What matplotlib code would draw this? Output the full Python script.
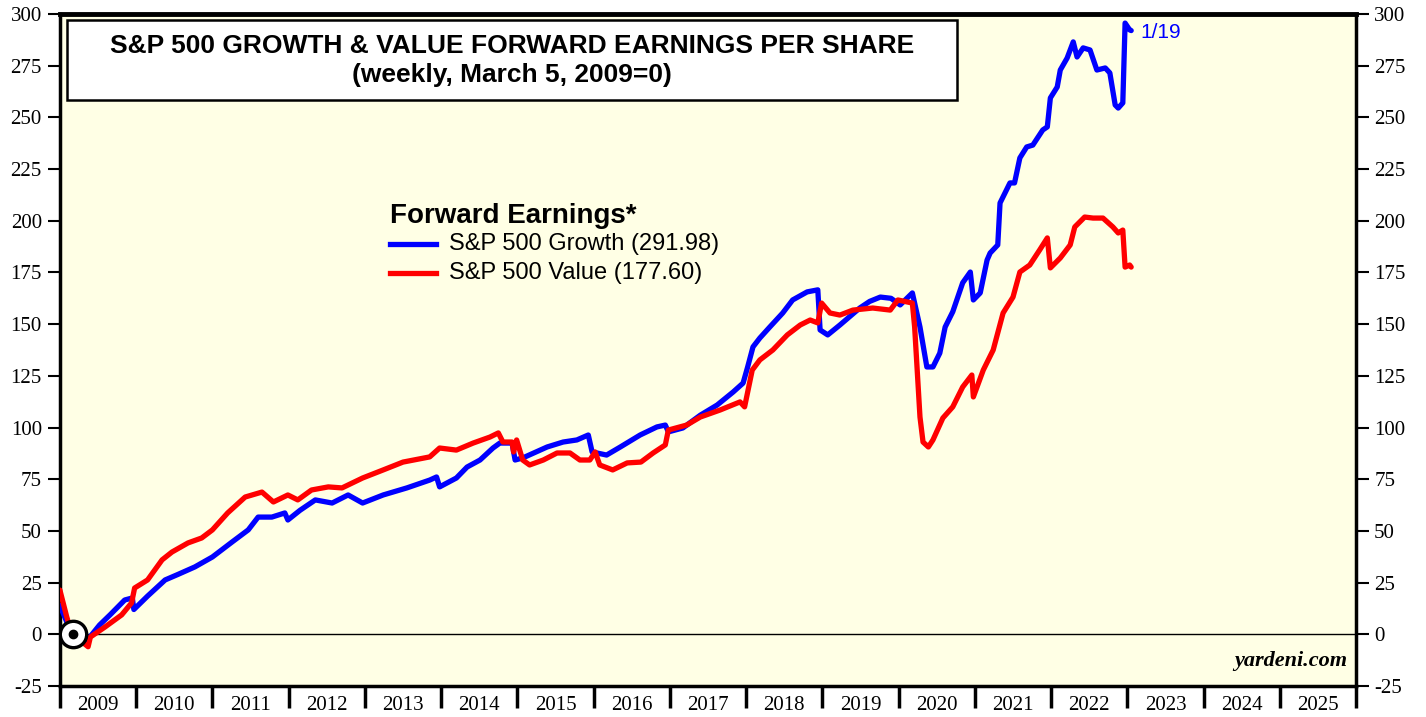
import matplotlib
matplotlib.use("Agg")
import numpy as np
import matplotlib.pyplot as plt
from matplotlib.patches import Rectangle
from matplotlib.ticker import MultipleLocator, FixedLocator, NullFormatter

plt.rcParams["axes.unicode_minus"] = False

# forward EPS index, March 5 2009 = 0
growth_x = [2009.0, 2009.09, 2009.17, 2009.33, 2009.4, 2009.52, 2009.66, 2009.85, 2009.95, 2009.97,
            2010.15, 2010.38, 2010.55, 2010.77, 2011.0, 2011.26, 2011.47, 2011.6, 2011.78, 2011.95,
            2011.99, 2012.15, 2012.35, 2012.57, 2012.78, 2012.97, 2013.24, 2013.55, 2013.85, 2013.94,
            2013.98, 2014.2, 2014.34, 2014.51, 2014.68, 2014.77, 2014.93, 2014.97, 2015.07, 2015.39,
            2015.6, 2015.78, 2015.93, 2015.98, 2016.17, 2016.35, 2016.61, 2016.83, 2016.94, 2016.98,
            2017.17, 2017.4, 2017.62, 2017.83, 2017.96, 2018.02, 2018.09, 2018.18, 2018.31, 2018.48,
            2018.61, 2018.8, 2018.94, 2018.97, 2019.07, 2019.23, 2019.49, 2019.62, 2019.76, 2019.9,
            2020.02, 2020.18, 2020.28, 2020.37, 2020.45, 2020.54, 2020.61, 2020.71, 2020.84, 2020.94,
            2020.98, 2021.07, 2021.16, 2021.2, 2021.3, 2021.33, 2021.46, 2021.52, 2021.59, 2021.68,
            2021.76, 2021.89, 2021.95, 2021.99, 2022.08, 2022.12, 2022.21, 2022.29, 2022.34, 2022.42,
            2022.51, 2022.6, 2022.71, 2022.77, 2022.84, 2022.88, 2022.94, 2022.97, 2023.03, 2023.05]
growth_y = [14.0, 6.0, 0.0, -4.0, -1.0, 4.5, 9.5, 16.6, 17.6, 12.0,
            18.5, 26.3, 29.0, 32.6, 37.4, 44.7, 50.5, 56.7, 56.7, 58.7,
            55.3, 60.0, 65.0, 63.5, 67.4, 63.5, 67.4, 70.8, 74.6, 76.1,
            71.3, 75.6, 80.9, 84.3, 90.1, 92.5, 92.5, 84.3, 85.3, 90.6,
            93.0, 94.0, 96.4, 88.2, 86.7, 90.6, 96.4, 100.3, 101.2, 97.9,
            99.8, 106.0, 110.9, 117.2, 121.5, 129.3, 139.0, 143.3, 148.6, 155.4,
            161.7, 165.6, 166.6, 147.2, 144.8, 149.6, 157.8, 161.0, 163.1, 162.5,
            159.3, 165.1, 148.6, 129.3, 129.3, 136.0, 148.6, 156.0, 170.0, 175.2,
            161.7, 165.1, 181.0, 184.4, 188.3, 208.6, 218.3, 218.3, 230.4, 235.7,
            236.6, 243.9, 245.4, 259.4, 264.7, 272.9, 278.7, 286.5, 279.2, 283.6,
            282.6, 272.9, 273.9, 271.5, 256.0, 254.5, 257.0, 295.6, 292.3, 291.98]

value_x = [2009.0, 2009.09, 2009.13, 2009.17, 2009.37, 2009.4, 2009.59, 2009.81, 2009.94, 2009.98,
           2010.15, 2010.34, 2010.47, 2010.68, 2010.86, 2011.0, 2011.2, 2011.43, 2011.65, 2011.8,
           2011.99, 2012.12, 2012.3, 2012.52, 2012.7, 2012.97, 2013.24, 2013.5, 2013.85, 2013.98,
           2014.2, 2014.42, 2014.64, 2014.75, 2014.81, 2014.93, 2014.95, 2014.99, 2015.07, 2015.16,
           2015.34, 2015.52, 2015.69, 2015.82, 2015.95, 2016.02, 2016.08, 2016.25, 2016.44, 2016.62,
           2016.78, 2016.94, 2016.98, 2017.22, 2017.4, 2017.66, 2017.92, 2017.98, 2018.08, 2018.18,
           2018.35, 2018.54, 2018.71, 2018.84, 2018.94, 2018.99, 2019.1, 2019.23, 2019.4, 2019.66,
           2019.89, 2019.99, 2020.18, 2020.21, 2020.28, 2020.32, 2020.39, 2020.45, 2020.58, 2020.71,
           2020.84, 2020.96, 2020.98, 2021.11, 2021.24, 2021.37, 2021.5, 2021.59, 2021.72, 2021.85,
           2021.95, 2021.99, 2022.12, 2022.25, 2022.31, 2022.44, 2022.55, 2022.68, 2022.81, 2022.88,
           2022.94, 2022.97, 2023.03, 2023.05]
value_y = [21.4, 8.4, 3.5, 0.0, -6.0, -1.3, 3.5, 9.4, 15.2, 22.4,
           26.3, 36.0, 39.8, 44.2, 46.6, 50.5, 58.7, 66.4, 68.8, 64.0,
           67.4, 65.0, 69.8, 71.3, 70.8, 75.6, 79.5, 83.3, 85.8, 90.1,
           89.1, 92.5, 95.4, 97.4, 93.0, 93.0, 88.2, 94.0, 84.3, 81.9,
           84.3, 87.7, 87.7, 84.3, 84.3, 88.2, 81.9, 79.5, 82.9, 83.3,
           87.7, 91.6, 98.8, 101.2, 105.1, 108.5, 112.4, 110.0, 127.8, 132.7,
           137.5, 144.8, 149.6, 152.0, 150.6, 160.2, 155.4, 154.4, 156.8, 157.8,
           156.8, 161.7, 160.2, 148.6, 105.1, 93.0, 90.6, 94.0, 104.6, 110.0,
           119.6, 125.4, 114.8, 127.8, 137.5, 155.4, 163.1, 175.2, 178.6, 185.9,
           191.7, 177.2, 182.0, 188.3, 197.0, 201.8, 201.3, 201.3, 197.0, 194.1,
           195.5, 177.6, 178.6, 177.6]

years = list(range(2009, 2026))
growth_last = 291.98
value_last = 177.60
base_date = 2009.17

bg = "#ffffe5"
sans = "Liberation Sans"
serif = "Liberation Serif"

fig = plt.figure(figsize=(14.26, 7.17), dpi=100)
ax = fig.add_axes([0.042, 0.0432, 0.909, 0.9373])
ax.set_facecolor(bg)

ax.axhline(0, color="black", lw=1.0, zorder=1)
ax.plot(growth_x, growth_y, color="#0000ff", lw=3.8, solid_joinstyle="round",
        solid_capstyle="round", zorder=3)
ax.plot(value_x, value_y, color="#ff0000", lw=3.8, solid_joinstyle="round",
        solid_capstyle="round", zorder=3)

# base-date marker
ax.plot([base_date], [0], marker="o", ms=19, mfc="white", mec="black", mew=2.4, zorder=5)
ax.plot([base_date], [0], marker="o", ms=6, mfc="black", mec="black", zorder=6)

ax.set_xlim(2009, 2026)
ax.set_ylim(-25, 300)

# y axes
ax.yaxis.set_major_locator(MultipleLocator(25))
ax.tick_params(axis="y", which="major", direction="out", length=9, width=1.5,
               labelsize=15, left=True, right=True, labelleft=True, labelright=True, pad=4)
for lab in ax.get_yticklabels():
    lab.set_fontfamily(serif)

# x axis: year boundaries as ticks, labels centred in each year
ax.xaxis.set_major_locator(FixedLocator(list(range(2009, 2027))))
ax.xaxis.set_major_formatter(NullFormatter())
ax.xaxis.set_minor_locator(FixedLocator([y + 0.5 for y in years]))
ax.set_xticklabels([str(y) for y in years], minor=True, fontfamily=serif, fontsize=15)
ax.tick_params(axis="x", which="major", direction="out", length=16, width=2.5)
ax.tick_params(axis="x", which="minor", length=0, pad=7)

for s in ["top", "bottom", "left", "right"]:
    ax.spines[s].set_linewidth(2.5)
ax.spines["top"].set_linewidth(3.5)

# title box
ax.add_patch(Rectangle((0.0054, 0.872), 0.6866, 0.119, transform=ax.transAxes,
                       fc="white", ec="black", lw=1.8, zorder=9))
ax.text(0.349, 0.952, "S&P 500 GROWTH & VALUE FORWARD EARNINGS PER SHARE",
        transform=ax.transAxes, ha="center", va="center", fontsize=19, fontweight="bold",
        fontfamily=sans, zorder=10)
ax.text(0.349, 0.909, "(weekly, March 5, 2009=0)",
        transform=ax.transAxes, ha="center", va="center", fontsize=19, fontweight="bold",
        fontfamily=sans, zorder=10)

# legend
ax.text(0.255, 0.700, "Forward Earnings*", transform=ax.transAxes, fontsize=20,
        fontweight="bold", fontfamily=sans, va="center", ha="left")
ax.plot([0.255, 0.290], [0.657, 0.657], transform=ax.transAxes, color="#0000ff", lw=3.8)
ax.plot([0.255, 0.290], [0.614, 0.614], transform=ax.transAxes, color="#ff0000", lw=3.8)
ax.text(0.300, 0.657, "S&P 500 Growth (%.2f)" % growth_last, transform=ax.transAxes,
        fontsize=17, fontfamily=sans, va="center", ha="left")
ax.text(0.300, 0.614, "S&P 500 Value (%.2f)" % value_last, transform=ax.transAxes,
        fontsize=17, fontfamily=sans, va="center", ha="left")

ax.text(2023.17, 291, "1/19", color="#0000ff", fontsize=15, fontfamily=sans,
        va="center", ha="left")
ax.text(0.993, 0.022, "yardeni.com", transform=ax.transAxes, fontsize=16,
        fontweight="bold", fontstyle="italic", fontfamily=serif, ha="right", va="bottom")

fig.savefig("out.png", dpi=100)
